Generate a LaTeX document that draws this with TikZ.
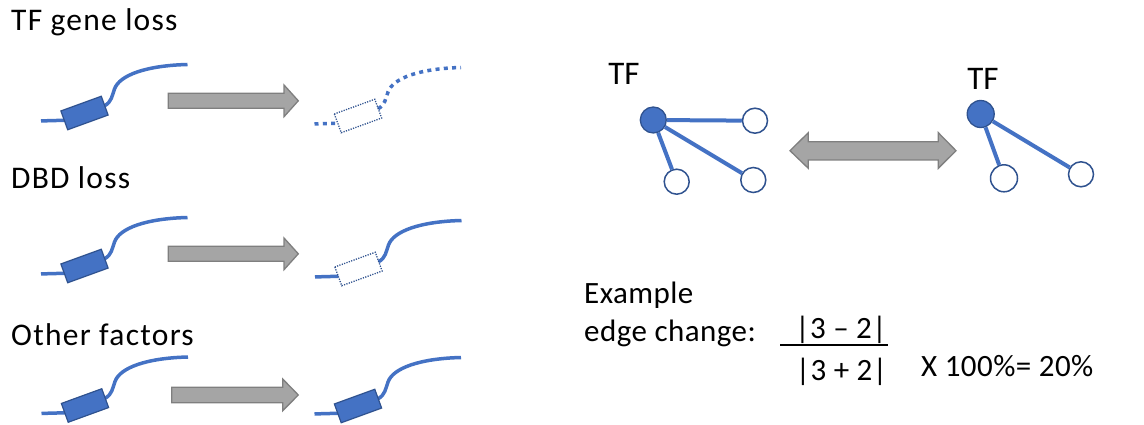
\documentclass[tikz,border=0pt]{standalone}
\usepackage{fontspec}
\setmainfont{Carlito}
\newfontfamily\titlefont{Carlito}[LetterSpace=4]
\newfontfamily\notefont{Carlito}[LetterSpace=1.5]
\definecolor{geneblue}{HTML}{4472C4}
\definecolor{genedark}{HTML}{2F528F}
\definecolor{arrowgray}{HTML}{A5A5A5}
\definecolor{arrowedge}{HTML}{7F7F7F}
\tikzset{
  gene strand/.style={draw=geneblue, line width=3.5pt},
  gene box/.style={fill=geneblue, draw=genedark, line width=1.2pt},
  lost strand/.style={gene strand/.append style={dash pattern=on 4pt off 4.3pt}},
  lost box/.style={gene box/.append style={fill=none, line width=1.3pt, dash pattern=on 1.2pt off 1.3pt}},
  pics/gene/.style={code={
    \draw[gene strand] (-43.5,8) .. controls (-35,7.6) and (-27,7.5) .. (-20.2,7.3);
    \draw[gene strand] (20.2,-7.3) .. controls (27,-11) and (27.5,-17) .. (30,-24)
                       .. controls (35,-38) and (62,-47.5) .. (103,-48.5);
    \draw[gene box, rotate=20] (-21.5,-10) rectangle (21.5,10);
  }},
  blockarrow/.style={fill=arrowgray, draw=arrowedge, line width=1.3pt, line join=miter},
  lbl/.style={inner sep=0pt, font=\titlefont\fontsize{31.5}{36}\selectfont},
  note/.style={inner sep=0pt, font=\notefont\fontsize{31}{36}\selectfont},
  tflbl/.style={inner sep=0pt, font=\fontsize{33}{36}\selectfont},
  tfnode/.style={circle, inner sep=0pt, minimum size=26pt, fill=geneblue, draw=genedark, line width=1.3pt},
  target/.style={circle, inner sep=0pt, minimum size=25pt, fill=white, draw=genedark, line width=1.5pt},
  edge/.style={draw=geneblue, line width=4pt}
}
\begin{document}
\begin{tikzpicture}[x=1pt,y=-1pt]
\useasboundingbox (0,0) rectangle (1144,425);

% section titles
\node[lbl, anchor=base west] (title1) at (11,31) {TF gene loss};
\node[lbl, anchor=base west] (title2) at (11,188.3) {DBD loss};
\node[lbl, anchor=base west] (title3) at (11,345) {Other factors};

% genes before (left) and after (right)
\pic at (84.5,113) {gene};
\pic at (84.5,266) {gene};
\pic at (85,405.5) {gene};
\pic[lost strand, lost box] at (358,116) {gene};
\pic[lost box] at (358.5,269) {gene};
\pic at (358,406) {gene};

% block arrows
\draw[blockarrow] (168.3,93.3) -- (284,93.3) -- (284,85) -- (298.3,100.8) -- (284,116.7) -- (284,108.3) -- (168.3,108.3) -- cycle;
\draw[blockarrow] (168.3,246.3) -- (284,246.3) -- (284,238) -- (298.3,253.8) -- (284,269.7) -- (284,261.3) -- (168.3,261.3) -- cycle;
\draw[blockarrow] (171.7,387.3) -- (282.7,387.3) -- (282.7,379) -- (298.3,395) -- (282.7,410.7) -- (282.7,402.7) -- (171.7,402.7) -- cycle;

% network before
\node[tfnode] (tf1) at (653.3,120) {};
\node[target] (a1) at (755,120.7) {};
\node[target] (b1) at (676.7,181.7) {};
\node[target] (c1) at (753.3,180) {};
\draw[edge] (tf1) -- (a1);
\draw[edge] (tf1) -- (b1);
\draw[edge] (tf1) -- (c1);
\node[tflbl, anchor=base] (tf1lbl) at (624,85) {TF};

% network after
\node[tfnode, minimum size=27pt] (tf2) at (980.7,114) {};
\node[target, minimum size=27pt] (b2) at (1004,178.3) {};
\node[target] (c2) at (1081,174.3) {};
\draw[edge] (tf2) -- (b2);
\draw[edge] (tf2) -- (c2);
\node[tflbl, anchor=base] (tf2lbl) at (983,90) {TF};

% double arrow between networks
\draw[blockarrow] (790,150.7) -- (808.3,132.7) -- (808.3,141.7) -- (938.3,141.7) -- (938.3,132.7) -- (956,150.7)
  -- (938.3,168.3) -- (938.3,160) -- (808.3,160) -- (808.3,168.3) -- cycle;

% edge change formula
\node[note, anchor=base west] (ex1) at (584,303.3) {Example};
\node[note, anchor=base west] (ex2) at (584,341.7) {edge change:};
\node[note, anchor=base] (num) at (841,338.3) {|3 – 2|};
\node[note, anchor=base] (den) at (841.5,380) {|3 + 2|};
\draw[line width=1.5pt] (780,345) -- (888,345);
\node[note, anchor=base west] (pct) at (921,376) {X 100\%= 20\%};
\end{tikzpicture}
\end{document}
